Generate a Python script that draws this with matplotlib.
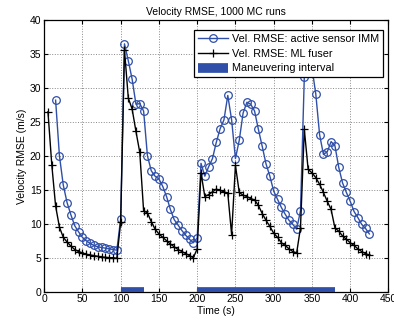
import matplotlib
matplotlib.use("Agg")
import matplotlib.pyplot as plt
import numpy as np

plt.rcParams['font.family'] = ['Liberation Sans', 'DejaVu Sans']

# blue: active sensor IMM, sampled every 5 s from t=15
imm_t = np.arange(15, 430, 5)
imm_rmse = [28.2, 20.0, 15.7, 13.1, 11.3, 9.7, 8.8, 8.0, 7.5, 7.1,
            6.8, 6.6, 6.5, 6.4, 6.3, 6.2, 6.1, 10.7, 36.5, 34.0,
            31.3, 27.6, 27.7, 26.6, 20.0, 17.8, 17.0, 16.6, 15.5, 14.0,
            12.1, 10.6, 9.8, 9.0, 8.3, 7.7, 7.2, 7.9, 18.9, 17.0,
            18.4, 19.6, 22.0, 24.0, 25.3, 28.9, 25.3, 19.6, 22.3, 26.3,
            27.9, 27.6, 26.6, 23.9, 21.4, 18.8, 17.0, 14.8, 13.6, 12.4,
            11.4, 10.5, 9.9, 9.2, 11.9, 31.6, 37.0, 33.0, 29.1, 23.1,
            20.2, 20.6, 22.1, 21.5, 18.3, 16.0, 14.6, 13.3, 11.8, 10.9,
            9.9, 9.3, 8.5]

# black: ML fuser, sampled every 5 s from t=5
ml_t = np.arange(5, 430, 5)
ml_rmse = [26.5, 18.7, 12.6, 9.5, 8.0, 7.3, 6.7, 6.2, 5.9, 5.7,
           5.5, 5.4, 5.3, 5.2, 5.1, 5.05, 5.0, 5.0, 4.9, 10.2,
           35.6, 28.5, 26.9, 23.6, 20.5, 11.9, 11.6, 10.3, 9.2, 8.5,
           8.0, 7.5, 7.0, 6.6, 6.2, 5.9, 5.6, 5.3, 5.0, 6.3,
           17.5, 14.0, 14.3, 14.7, 15.1, 14.9, 14.7, 14.5, 8.4, 18.6,
           14.6, 14.2, 14.0, 13.7, 13.5, 12.7, 11.5, 10.5, 9.6, 8.6,
           8.0, 7.2, 6.8, 6.3, 5.9, 5.7, 9.4, 23.9, 18.0, 17.5,
           16.8, 15.8, 14.6, 13.3, 12.1, 9.4, 8.9, 8.2, 7.7, 7.2,
           6.8, 6.3, 5.9, 5.6, 5.35]

# maneuvering intervals (s)
maneuvers = [(100, 130), (200, 380)]

blue = '#2f4fa8'

fig = plt.figure(figsize=(3.94, 3.24), dpi=100)
ax = fig.add_axes([0.112, 0.1, 0.874, 0.838])

ax.plot(imm_t, imm_rmse, '-o', color=blue, lw=1.0, ms=5.5, mfc='none',
        mew=0.9, label='Vel. RMSE: active sensor IMM', zorder=3)
ax.plot(ml_t, ml_rmse, '-+', color='black', lw=1.0, ms=6, mew=0.9,
        label='Vel. RMSE: ML fuser', zorder=4)
for i, (a, b) in enumerate(maneuvers):
    ax.plot([a, b], [0, 0], '-', color=blue, lw=7, solid_capstyle='butt',
            label='Maneuvering interval' if i == 0 else None, zorder=5)

ax.set_xlim(0, 450)
ax.set_ylim(0, 40)
ax.set_xticks(np.arange(0, 451, 50))
ax.set_yticks(np.arange(0, 41, 5))
ax.tick_params(direction='in', labelsize=7.5, length=3, top=True, right=True,
               pad=2)
ax.grid(True, linestyle=':', color='#888888', lw=0.7)
for s in ax.spines.values():
    s.set_linewidth(0.9)

ax.set_title('Velocity RMSE, 1000 MC runs', fontsize=7.5, pad=4)
ax.set_xlabel('Time (s)', fontsize=7.5, labelpad=1)
ax.set_ylabel('Velocity RMSE (m/s)', fontsize=7.5, labelpad=2)

leg = ax.legend(loc='upper right', bbox_to_anchor=(0.983, 0.962),
                fontsize=7.8, frameon=True, fancybox=False,
                edgecolor='black', framealpha=1, handlelength=2.8,
                borderpad=0.35, labelspacing=0.42, handletextpad=0.35,
                borderaxespad=0.0)
leg.get_frame().set_linewidth(0.9)
leg.set_zorder(10)

fig.savefig('out.png', dpi=100)
